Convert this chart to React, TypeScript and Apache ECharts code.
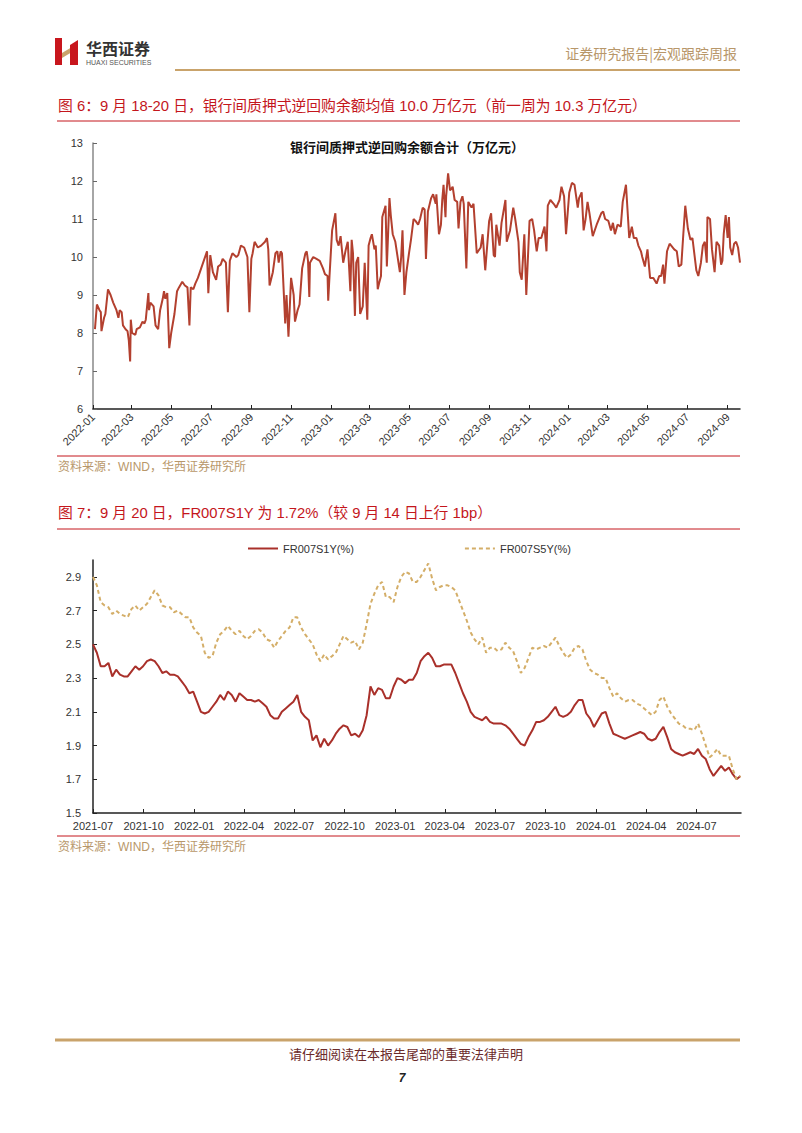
import React, { useEffect, useRef } from "react";
import * as echarts from "echarts";

// ---------- Figure 6: interbank pledged reverse repo balance (trillion yuan) ----------
const balanceDates: string[] = [
  "2022-01-04","2022-01-07","2022-01-11","2022-01-13","2022-01-14","2022-01-18","2022-01-20","2022-01-24","2022-01-28",
  "2022-02-01","2022-02-06","2022-02-09","2022-02-11","2022-02-14","2022-02-16","2022-02-20","2022-02-23","2022-02-25","2022-02-27","2022-02-28",
  "2022-03-02","2022-03-07","2022-03-09","2022-03-14","2022-03-18","2022-03-21","2022-03-23","2022-03-27","2022-03-28","2022-03-30",
  "2022-04-04","2022-04-07","2022-04-11","2022-04-14","2022-04-18","2022-04-20","2022-04-22","2022-04-25","2022-04-28",
  "2022-05-01","2022-05-06","2022-05-10","2022-05-13","2022-05-18","2022-05-22","2022-05-26","2022-05-29","2022-05-31",
  "2022-06-04","2022-06-07","2022-06-11","2022-06-16","2022-06-25","2022-06-27","2022-06-30",
  "2022-07-04","2022-07-09","2022-07-12","2022-07-16","2022-07-19","2022-07-24","2022-07-27","2022-07-30",
  "2022-08-03","2022-08-09","2022-08-12","2022-08-16","2022-08-21","2022-08-26","2022-08-29",
  "2022-09-01","2022-09-03","2022-09-06","2022-09-11","2022-09-16","2022-09-22","2022-09-25","2022-09-27","2022-09-29",
  "2022-10-04","2022-10-08","2022-10-11","2022-10-13","2022-10-16","2022-10-18","2022-10-23","2022-10-25","2022-10-28",
  "2022-11-01","2022-11-05","2022-11-07","2022-11-11","2022-11-14","2022-11-18","2022-11-23","2022-11-25","2022-11-27","2022-11-29","2022-11-30",
  "2022-12-05","2022-12-10","2022-12-15","2022-12-20","2022-12-23","2022-12-27","2022-12-28","2022-12-30",
  "2023-01-03","2023-01-08","2023-01-10","2023-01-13","2023-01-16","2023-01-20","2023-01-24","2023-01-27","2023-01-31",
  "2023-02-02","2023-02-04","2023-02-07","2023-02-09","2023-02-12","2023-02-15","2023-02-19","2023-02-22","2023-02-26","2023-02-28",
  "2023-03-03","2023-03-05","2023-03-09","2023-03-11","2023-03-14","2023-03-16","2023-03-19","2023-03-21","2023-03-26","2023-03-28",
  "2023-04-01","2023-04-03","2023-04-06","2023-04-10","2023-04-17","2023-04-19","2023-04-21","2023-04-24","2023-04-27",
  "2023-05-01","2023-05-04","2023-05-08","2023-05-11","2023-05-15","2023-05-18","2023-05-22","2023-05-25","2023-05-27","2023-05-30",
  "2023-06-04","2023-06-07","2023-06-11","2023-06-12","2023-06-16","2023-06-19","2023-06-21","2023-06-23","2023-06-26","2023-06-27","2023-06-30",
  "2023-07-03","2023-07-07","2023-07-10","2023-07-14","2023-07-16","2023-07-19","2023-07-22","2023-07-24","2023-07-28","2023-07-31",
  "2023-08-05","2023-08-08","2023-08-13","2023-08-19","2023-08-22","2023-08-26",
  "2023-09-01","2023-09-04","2023-09-08","2023-09-10","2023-09-12","2023-09-17","2023-09-20","2023-09-26","2023-09-28",
  "2023-10-03","2023-10-08","2023-10-11","2023-10-16","2023-10-18","2023-10-21","2023-10-25","2023-10-28",
  "2023-11-02","2023-11-06","2023-11-09","2023-11-13","2023-11-16","2023-11-20","2023-11-25","2023-11-28","2023-11-30",
  "2023-12-04","2023-12-09","2023-12-13","2023-12-18","2023-12-21","2023-12-25","2023-12-28",
  "2024-01-02","2024-01-06","2024-01-10","2024-01-15","2024-01-17","2024-01-21","2024-01-24","2024-01-27","2024-01-30",
  "2024-02-02","2024-02-07","2024-02-13","2024-02-20","2024-02-23","2024-02-26",
  "2024-03-02","2024-03-06","2024-03-09","2024-03-12","2024-03-16","2024-03-21","2024-03-24","2024-03-29",
  "2024-04-03","2024-04-07","2024-04-10","2024-04-14","2024-04-17","2024-04-21","2024-04-23","2024-04-27",
  "2024-05-01","2024-05-05","2024-05-10","2024-05-15","2024-05-19","2024-05-22","2024-05-25","2024-05-27","2024-05-31",
  "2024-06-04","2024-06-11","2024-06-15","2024-06-18","2024-06-22","2024-06-25","2024-06-28",
  "2024-07-02","2024-07-06","2024-07-09","2024-07-15","2024-07-18","2024-07-22","2024-07-25","2024-07-28","2024-07-31",
  "2024-08-01","2024-08-05","2024-08-08","2024-08-12","2024-08-15","2024-08-19","2024-08-22","2024-08-24","2024-08-26","2024-08-29",
  "2024-09-01","2024-09-03","2024-09-05","2024-09-08","2024-09-11","2024-09-14","2024-09-17","2024-09-20",
];
const balanceValues: number[] = [
  8.1,8.75,8.6,8.55,8.05,8.4,8.5,9.15,9.0,
  8.8,8.6,8.4,8.6,8.55,8.2,8.1,8.05,7.8,7.25,8.35,
  8.0,7.95,8.1,8.15,8.3,8.25,8.35,9.05,8.6,8.8,
  8.7,8.2,8.1,8.6,8.9,9.1,8.9,9.05,7.6,
  8.0,8.5,9.1,9.2,9.35,9.25,9.2,8.2,9.2,
  9.15,9.3,9.45,9.7,10.15,9.05,10.05,
  9.6,9.4,9.75,9.8,9.95,9.85,8.55,9.9,
  10.1,10.0,10.05,10.3,10.25,10.0,8.55,
  9.95,10.1,10.4,10.25,10.3,10.4,10.5,10.2,9.25,
  9.6,10.1,10.15,9.85,10.15,10.1,8.25,9.0,7.9,
  9.45,9.0,8.3,8.6,8.75,9.7,10.1,10.15,9.9,8.95,9.85,
  10.0,9.95,9.9,9.7,9.55,9.5,8.85,9.5,
  10.7,11.15,10.45,10.3,10.55,9.85,10.2,10.4,9.1,
  10.45,10.1,8.45,9.85,10.0,8.5,8.7,9.85,8.35,10.3,
  10.5,10.6,10.2,10.3,9.15,9.3,9.5,11.05,11.35,9.75,
  11.55,11.1,10.6,10.4,9.6,10.0,10.7,9.0,9.6,
  10.1,10.45,11.0,10.95,10.85,11.0,11.3,11.25,9.95,11.2,
  11.55,11.65,11.4,11.65,10.6,10.85,11.5,11.9,11.05,11.6,12.2,
  11.75,11.85,11.5,11.45,10.75,11.45,11.6,11.4,9.7,11.45,
  11.3,11.4,10.1,10.25,10.6,9.65,
  10.95,11.15,10.05,10.0,10.85,10.3,10.9,11.5,10.4,
  10.7,11.3,11.0,10.4,9.6,9.4,10.6,9.0,
  10.95,11.0,10.7,10.15,10.5,10.5,10.8,10.15,11.35,
  11.5,11.4,11.3,11.5,11.85,11.6,10.6,
  11.7,11.95,11.9,11.3,11.55,11.7,10.7,11.0,11.45,
  11.15,10.55,10.85,11.15,11.2,11.0,
  10.95,10.7,10.9,10.6,10.85,10.8,11.45,11.9,
  10.5,10.8,10.5,10.5,10.3,10.15,10.0,9.75,
  10.2,9.45,9.45,9.3,9.5,9.5,9.8,9.3,10.15,
  10.35,10.2,10.15,9.75,9.8,10.6,11.35,
  10.75,10.45,10.5,9.65,9.5,9.85,10.3,10.4,9.85,
  11.05,11.0,10.2,9.6,10.4,10.3,9.8,9.9,10.6,11.1,
  10.5,11.05,10.25,10.05,10.35,10.4,10.25,9.85,
];
const balanceTickLabels = [
  "2022-01","2022-03","2022-05","2022-07","2022-09","2022-11",
  "2023-01","2023-03","2023-05","2023-07","2023-09","2023-11",
  "2024-01","2024-03","2024-05","2024-07","2024-09",
];
const balanceYTicks = [6, 7, 8, 9, 10, 11, 12, 13];

// ---------- Figure 7: FR007 swap rates (%), weekly readings from 2021-07-01 ----------
const rateStartDate = [2021, 7, 1];
const rateStepDays = 7;
const fr007s1y: number[] = [
  2.50,2.45,2.37,2.37,2.39,2.31,2.35,2.32,2.31,2.31,
  2.34,2.37,2.35,2.37,2.40,2.41,2.40,2.37,2.33,2.34,
  2.32,2.32,2.31,2.28,2.25,2.21,2.22,2.16,2.10,2.09,
  2.10,2.13,2.16,2.20,2.17,2.22,2.20,2.16,2.21,2.19,
  2.17,2.17,2.16,2.17,2.15,2.13,2.08,2.06,2.06,2.10,
  2.12,2.14,2.16,2.20,2.10,2.07,2.05,1.93,1.96,1.89,
  1.94,1.90,1.93,1.97,2.00,2.02,2.01,1.96,1.97,1.95,
  1.99,2.08,2.25,2.20,2.24,2.23,2.18,2.18,2.25,2.30,
  2.29,2.27,2.29,2.29,2.33,2.40,2.43,2.45,2.42,2.37,
  2.37,2.38,2.38,2.38,2.33,2.27,2.21,2.16,2.10,2.07,
  2.06,2.05,2.07,2.04,2.03,2.03,2.03,2.02,2.00,1.97,
  1.94,1.91,1.90,1.95,1.99,2.04,2.04,2.05,2.07,2.10,
  2.13,2.08,2.07,2.08,2.10,2.14,2.17,2.17,2.09,2.06,
  2.01,2.05,2.09,2.10,2.03,1.97,1.96,1.95,1.94,1.95,
  1.96,1.97,1.98,1.97,1.94,1.93,1.94,1.98,2.01,1.95,
  1.88,1.86,1.85,1.84,1.85,1.86,1.85,1.88,1.84,1.82,
  1.76,1.72,1.75,1.78,1.75,1.77,1.73,1.70,1.72,
];
const fr007s5y: number[] = [
  2.90,2.85,2.75,2.73,2.72,2.68,2.70,2.68,2.67,2.66,
  2.71,2.73,2.70,2.72,2.74,2.78,2.82,2.79,2.73,2.72,
  2.72,2.69,2.70,2.68,2.66,2.66,2.60,2.57,2.55,2.45,
  2.42,2.43,2.51,2.56,2.58,2.61,2.58,2.56,2.58,2.55,
  2.53,2.55,2.58,2.59,2.57,2.53,2.52,2.48,2.52,2.55,
  2.58,2.60,2.66,2.66,2.60,2.56,2.53,2.50,2.44,2.40,
  2.44,2.41,2.43,2.45,2.50,2.55,2.53,2.51,2.52,2.47,
  2.51,2.62,2.74,2.80,2.85,2.87,2.78,2.78,2.75,2.84,
  2.90,2.93,2.92,2.87,2.87,2.90,2.94,2.98,2.89,2.82,
  2.84,2.85,2.85,2.84,2.82,2.76,2.70,2.64,2.57,2.53,
  2.50,2.54,2.45,2.48,2.48,2.46,2.47,2.51,2.48,2.46,
  2.40,2.33,2.36,2.42,2.48,2.47,2.48,2.49,2.48,2.51,
  2.54,2.49,2.45,2.42,2.44,2.48,2.49,2.47,2.40,2.35,
  2.33,2.32,2.30,2.30,2.24,2.19,2.21,2.18,2.16,2.17,
  2.17,2.15,2.14,2.12,2.10,2.08,2.10,2.17,2.19,2.13,
  2.09,2.06,2.03,2.02,2.00,2.00,1.99,2.03,1.97,1.90,
  1.83,1.85,1.88,1.84,1.84,1.84,1.76,1.70,1.72,
];
const rateSeriesNames = ["FR007S1Y(%)", "FR007S5Y(%)"];
const rateTickLabels = [
  "2021-07","2021-10","2022-01","2022-04","2022-07","2022-10",
  "2023-01","2023-04","2023-07","2023-10","2024-01","2024-04","2024-07",
];
const rateYTicks = [1.5, 1.7, 1.9, 2.1, 2.3, 2.5, 2.7, 2.9];

// ---------- helpers ----------
const dayToTime = (s: string) => {
  const [y, m, d] = s.split("-").map(Number);
  return new Date(y, m - 1, d || 1).getTime();
};
const fmtMonth = (v: number) => {
  const d = new Date(v);
  return `${d.getFullYear()}-${String(d.getMonth() + 1).padStart(2, "0")}`;
};
const rateTime = (i: number) =>
  new Date(rateStartDate[0], rateStartDate[1] - 1, rateStartDate[2] + i * rateStepDays).getTime();

const RED = "#C4161C";
const TAN = "#B8976A";
const GOLD = "#C9A36B";
const SANS = "'Liberation Sans', Arial, 'Noto Sans CJK SC', sans-serif";

export default function App() {
  const ref = useRef<HTMLDivElement>(null);

  useEffect(() => {
    if (!ref.current) return;
    const chart = echarts.init(ref.current, undefined, { renderer: "svg" });

    const balanceData = balanceDates.map((d, i) => [dayToTime(d), balanceValues[i]]);
    const s1Data = fr007s1y.map((v, i) => [rateTime(i), v]);
    const s5Data = fr007s5y.map((v, i) => [rateTime(i), v]);
    const balanceTicks = balanceTickLabels.map(dayToTime);
    const rateTicks = rateTickLabels.map(dayToTime);

    const txt = (text: string, x: number, y: number, font: string, fill: string, align = "left") => ({
      type: "text",
      style: { text, x, y, font, fill, align, verticalAlign: "middle" },
    });
    const hline = (x1: number, x2: number, y: number, stroke: string, lineWidth: number) => ({
      type: "line",
      shape: { x1, y1: y, x2, y2: y },
      style: { stroke, lineWidth },
    });

    const option: any = {
      animation: false,
      backgroundColor: "#ffffff",
      textStyle: { fontFamily: SANS },
      graphic: [
        { type: "polygon", shape: { points: [[55, 38], [62, 38], [62, 65], [55, 65]] }, style: { fill: "#C8161D" } },
        { type: "polygon", shape: { points: [[62, 53], [72, 47], [72, 52], [62, 58]] }, style: { fill: GOLD } },
        { type: "polygon", shape: { points: [[70, 45], [78, 40], [78, 65], [70, 65]] }, style: { fill: "#C8161D" } },
        txt("华西证券", 86, 48, "bold 16px 'Noto Sans CJK SC', serif", "#333333"),
        txt("HUAXI SECURITIES", 86, 62, "7px 'Liberation Sans', Arial, sans-serif", "#555555"),
        txt("证券研究报告|宏观跟踪周报", 737, 53, "14px 'Noto Sans CJK SC', serif", TAN, "right"),
        hline(175, 740, 70, GOLD, 2),
        txt("图 6：9 月 18-20 日，银行间质押式逆回购余额均值 10.0 万亿元（前一周为 10.3 万亿元）", 58, 106, `14.8px ${SANS}`, RED),
        hline(57, 740, 121, RED, 1),
        txt("银行间质押式逆回购余额合计（万亿元）", 407, 147, `bold 13px ${SANS}`, "#111111", "center"),
        hline(57, 740, 456, RED, 1),
        txt("资料来源：WIND，华西证券研究所", 58, 467, `12px ${SANS}`, TAN),
        txt("图 7：9 月 20 日，FR007S1Y 为 1.72%（较 9 月 14 日上行 1bp）", 58, 513, `14.8px ${SANS}`, RED),
        hline(57, 740, 529, RED, 1),
        hline(57, 740, 836, RED, 1),
        txt("资料来源：WIND，华西证券研究所", 58, 847, `12px ${SANS}`, TAN),
        hline(55, 740, 1040, GOLD, 3),
        txt("请仔细阅读在本报告尾部的重要法律声明", 406, 1053, "13px 'Noto Sans CJK SC', serif", "#6B2A2A", "center"),
        txt("7", 402, 1078, `italic bold 12px ${SANS}`, "#222222", "center"),
      ],
      legend: {
        data: rateSeriesNames,
        left: 242,
        top: 538,
        itemGap: 110,
        itemWidth: 30,
        itemHeight: 10,
        itemStyle: { opacity: 0 },
        textStyle: { fontSize: 11, color: "#333", fontFamily: SANS },
      },
      grid: [
        { left: 93, top: 143, width: 647, height: 266, containLabel: false },
        { left: 93, top: 560, width: 648, height: 253, containLabel: false },
      ],
      xAxis: [
        {
          type: "value",
          gridIndex: 0,
          min: dayToTime("2022-01-01"),
          max: dayToTime("2024-09-20"),
          axisLine: { lineStyle: { color: "#222", width: 1.5 } },
          axisTick: { inside: true, length: 4, lineStyle: { color: "#222" }, customValues: balanceTicks },
          axisLabel: {
            rotate: 45,
            margin: 6,
            fontSize: 11,
            color: "#333",
            customValues: balanceTicks,
            formatter: (v: number) => fmtMonth(v),
          },
          splitLine: { show: false },
        },
        {
          type: "value",
          gridIndex: 1,
          min: dayToTime("2021-07-01"),
          max: dayToTime("2024-09-20"),
          axisLine: { lineStyle: { color: "#222", width: 1.5 } },
          axisTick: { inside: true, length: 4, lineStyle: { color: "#222" }, customValues: rateTicks },
          axisLabel: {
            margin: 7,
            fontSize: 11,
            color: "#333",
            customValues: rateTicks,
            formatter: (v: number) => fmtMonth(v),
          },
          splitLine: { show: false },
        },
      ],
      yAxis: [
        {
          type: "value",
          gridIndex: 0,
          min: 6,
          max: 13,
          interval: 1,
          axisLine: { show: true, lineStyle: { color: "#888", width: 1.5 } },
          axisTick: { show: true, inside: true, length: 4, lineStyle: { color: "#666" }, customValues: balanceYTicks },
          axisLabel: { margin: 10, fontSize: 11, color: "#333", customValues: balanceYTicks },
          splitLine: { show: false },
        },
        {
          type: "value",
          gridIndex: 1,
          min: 1.5,
          max: 3.0,
          axisLine: { show: true, lineStyle: { color: "#222", width: 1.5 } },
          axisTick: { show: true, inside: true, length: 4, lineStyle: { color: "#222" }, customValues: rateYTicks },
          axisLabel: {
            margin: 12,
            fontSize: 11,
            color: "#333",
            customValues: rateYTicks,
            formatter: (v: number) => v.toFixed(1),
          },
          splitLine: { show: false },
        },
      ],
      series: [
        {
          name: "银行间质押式逆回购余额合计",
          type: "line",
          xAxisIndex: 0,
          yAxisIndex: 0,
          data: balanceData,
          symbol: "none",
          lineStyle: { color: "#B3402F", width: 2 },
          itemStyle: { color: "#B3402F" },
        },
        {
          name: rateSeriesNames[0],
          type: "line",
          xAxisIndex: 1,
          yAxisIndex: 1,
          data: s1Data,
          symbol: "none",
          lineStyle: { color: "#A9302A", width: 2 },
          itemStyle: { color: "#A9302A" },
        },
        {
          name: rateSeriesNames[1],
          type: "line",
          xAxisIndex: 1,
          yAxisIndex: 1,
          data: s5Data,
          symbol: "none",
          lineStyle: { color: "#D4AE68", width: 2, type: [4, 3] },
          itemStyle: { color: "#D4AE68" },
        },
      ],
    };

    chart.setOption(option);
    return () => chart.dispose();
  }, []);

  return (
    <div
      ref={ref}
      style={{ position: "absolute", left: 0, top: 0, width: 802, height: 1133, background: "#fff" }}
    />
  );
}
